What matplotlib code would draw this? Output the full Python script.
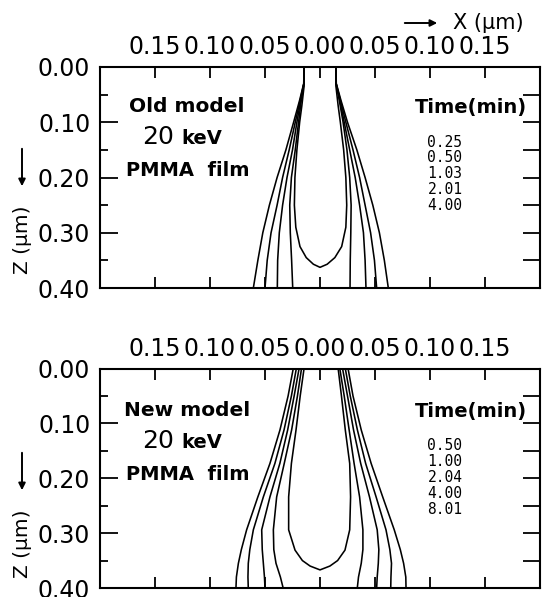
import numpy as np
import matplotlib
matplotlib.use("Agg")
import matplotlib.pyplot as plt
from matplotlib.ticker import FixedLocator
from matplotlib.patches import FancyArrowPatch

# ---------------- data ----------------
x_ticks = [-0.15, -0.10, -0.05, 0.0, 0.05, 0.10, 0.15]
x_ticklabels = ["0.15", "0.10", "0.05", "0.00", "0.05", "0.10", "0.15"]
z_ticks = [0.0, 0.1, 0.2, 0.3, 0.4]
z_ticklabels = ["0.00", "0.10", "0.20", "0.30", "0.40"]
z_minor = [0.05, 0.15, 0.25, 0.35]

old_times = ["0.25", "0.50", "1.03", "2.01", "4.00"]
new_times = ["0.50", "1.00", "2.04", "4.00", "8.01"]

# Old model: open contours (depth z, left / right x in um)
old_z = [0.0, 0.03, 0.06, 0.10, 0.15, 0.20, 0.25, 0.30, 0.35, 0.40]
old_400_left = [-0.0145, -0.0148, -0.0185, -0.024, -0.031, -0.039, -0.046, -0.052, -0.0565, -0.0606]
old_201_left = [-0.0145, -0.0147, -0.018, -0.0225, -0.028, -0.034, -0.039, -0.0445, -0.048, -0.050]
old_103_left = [-0.0145, -0.0146, -0.0175, -0.021, -0.025, -0.030, -0.034, -0.037, -0.0385, -0.0388]
old_050_left = [-0.0145, -0.0146, -0.017, -0.0195, -0.0225, -0.026, -0.0275, -0.027, -0.0258, -0.0248]
old_400_right = [0.0145, 0.0148, 0.019, 0.025, 0.0335, 0.041, 0.048, 0.054, 0.0585, 0.0621]
old_201_right = [0.0145, 0.0147, 0.0185, 0.0235, 0.030, 0.036, 0.041, 0.046, 0.0495, 0.0515]
old_103_right = [0.0145, 0.0146, 0.018, 0.022, 0.027, 0.032, 0.036, 0.0395, 0.041, 0.0418]
old_050_right = [0.0145, 0.0146, 0.0175, 0.021, 0.0245, 0.027, 0.0283, 0.028, 0.0275, 0.0273]
# Old model: closed contour 0.25 min
old_025_z = [0.0, 0.035, 0.07, 0.10, 0.15, 0.20, 0.25, 0.29, 0.325, 0.345, 0.357, 0.3626]
old_025_left = [-0.0145, -0.0145, -0.0165, -0.0185, -0.021, -0.0228, -0.0233, -0.022, -0.0182, -0.0125, -0.006, 0.0]
old_025_right = [0.0145, 0.0145, 0.0165, 0.0185, 0.0215, 0.0235, 0.0243, 0.0235, 0.0197, 0.0135, 0.0065, 0.0]

# New model: open contours
new_z = [0.0, 0.05, 0.112, 0.173, 0.234, 0.294, 0.33, 0.355, 0.38, 0.40]
new_801_left = [-0.0243, -0.029, -0.0364, -0.0455, -0.0565, -0.0667, -0.0715, -0.0742, -0.0760, -0.0764]
new_400_left = [-0.0215, -0.026, -0.0327, -0.041, -0.0515, -0.0606, -0.0638, -0.0652, -0.0655, -0.0652]
new_204_left = [-0.019, -0.0235, -0.0294, -0.0365, -0.0455, -0.053, -0.0525, -0.0515, -0.0505, -0.050]
new_100_left = [-0.0168, -0.0205, -0.0258, -0.0325, -0.0394, -0.0424, -0.042, -0.040, -0.036, -0.0335]
new_801_right = [0.0255, 0.030, 0.0375, 0.0465, 0.057, 0.0675, 0.073, 0.076, 0.078, 0.0782]
new_400_right = [0.023, 0.0275, 0.034, 0.0415, 0.051, 0.060, 0.0635, 0.065, 0.0645, 0.0643]
new_204_right = [0.0205, 0.025, 0.0305, 0.037, 0.045, 0.052, 0.0535, 0.053, 0.052, 0.0515]
new_100_right = [0.018, 0.022, 0.0265, 0.031, 0.036, 0.039, 0.039, 0.0375, 0.035, 0.0339]
# New model: closed contour 0.50 min
new_050_z = [0.0, 0.05, 0.112, 0.173, 0.234, 0.294, 0.331, 0.35, 0.36, 0.367]
new_050_left = [-0.0145, -0.018, -0.0218, -0.026, -0.0285, -0.0285, -0.0227, -0.016, -0.009, 0.0]
new_050_right = [0.0165, 0.0195, 0.023, 0.027, 0.0278, 0.027, 0.0227, 0.016, 0.009, 0.0]

# ---------------- figure ----------------
W, H = 542, 597
fig = plt.figure(figsize=(W / 100, H / 100), dpi=100)
plt.rcParams['font.family'] = ['DejaVu Sans']

def fx(px):
    return px / W

def fy(py):
    return 1 - py / H

LW_SPINE = 1.5
LW_CURVE = 1.15
TICK_FS = 17


def make_axes(top_px, bottom_px):
    ax = fig.add_axes([fx(100), fy(bottom_px), fx(540) - fx(100), fy(top_px) - fy(bottom_px)])
    ax.set_xlim(-0.2, 0.2)
    ax.set_ylim(0.4, 0.0)
    for s in ax.spines.values():
        s.set_linewidth(LW_SPINE)
    ax.set_xticks(x_ticks)
    ax.set_xticklabels(x_ticklabels, fontsize=TICK_FS)
    ax.tick_params(axis='x', which='major', direction='in', length=8, width=1.3,
                   top=True, bottom=True, labeltop=True, labelbottom=False, pad=5.5)
    ax.set_yticks(z_ticks)
    ax.set_yticklabels(z_ticklabels, fontsize=TICK_FS)
    ax.yaxis.set_minor_locator(FixedLocator(z_minor))
    ax.tick_params(axis='y', which='major', direction='in', length=13, width=1.3,
                   left=True, right=False, pad=7)
    ax.tick_params(axis='y', which='minor', direction='in', length=6, width=1.3,
                   left=True, right=False)
    ax.tick_params(axis='x', which='minor', top=False, bottom=False)
    tw = ax.twinx()
    tw.set_ylim(0.4, 0.0)
    tw.set_yticks(z_minor + z_ticks[1:4])
    tw.tick_params(axis='y', direction='in', length=12, width=1.3, labelright=False)
    for s in tw.spines.values():
        s.set_visible(False)
    return ax


def draw(ax, z, x):
    ax.plot(x, z, color='black', lw=LW_CURVE, solid_joinstyle='round', solid_capstyle='round')


# ---- top panel: old model ----
ax1 = make_axes(67, 288)
for xl in [old_400_left, old_201_left, old_103_left, old_050_left]:
    draw(ax1, old_z, xl)
for xr in [old_400_right, old_201_right, old_103_right, old_050_right]:
    draw(ax1, old_z, xr)
draw(ax1, old_025_z + old_025_z[::-1], old_025_left + old_025_right[::-1])

# ---- bottom panel: new model ----
ax2 = make_axes(368.5, 588)
for xl in [new_801_left, new_400_left, new_204_left, new_100_left]:
    draw(ax2, new_z, xl)
for xr in [new_801_right, new_400_right, new_204_right, new_100_right]:
    draw(ax2, new_z, xr)
draw(ax2, new_050_z + new_050_z[::-1], new_050_left + new_050_right[::-1])

# ---------------- texts ----------------
BOLD = dict(fontweight='bold', fontfamily='DejaVu Sans', ha='center', va='center')


def panel_text(off, model, times):
    fig.text(fx(187), fy(107 + off), model, fontsize=14.5, **BOLD)
    fig.text(fx(158), fy(137 + off), "20", fontsize=18, fontweight='normal',
             fontfamily='DejaVu Sans', ha='center', va='center')
    fig.text(fx(202), fy(138 + off), "keV", fontsize=14, **BOLD)
    fig.text(fx(188), fy(171 + off), "PMMA  film", fontsize=14, **BOLD)
    fig.text(fx(471), fy(107 + off), "Time(min)", fontsize=14, **BOLD)
    for i, t in enumerate(times):
        fig.text(fx(445), fy(142 + off + 16 * i), t, fontsize=10.5,
                 fontfamily='DejaVu Sans Mono', ha='center', va='center')
    # z axis label and arrow
    fig.text(fx(22), fy(240 + off), "Z (μm)", rotation=90, fontsize=14.5,
             ha='center', va='center')
    fig.add_artist(FancyArrowPatch((fx(22), fy(146 + off)), (fx(22), fy(189 + off)),
                                   transform=fig.transFigure, arrowstyle='-|>',
                                   mutation_scale=10, lw=1.4, color='black'))


panel_text(0, "Old model", old_times)
panel_text(304, "New model", new_times)

# x axis label at top right
fig.text(fx(488), fy(23), "X (μm)", fontsize=15, ha='center', va='center')
fig.add_artist(FancyArrowPatch((fx(402), fy(23)), (fx(440), fy(23)),
                               transform=fig.transFigure, arrowstyle='-|>',
                               mutation_scale=10, lw=1.4, color='black'))

fig.savefig("out.png", dpi=100)
